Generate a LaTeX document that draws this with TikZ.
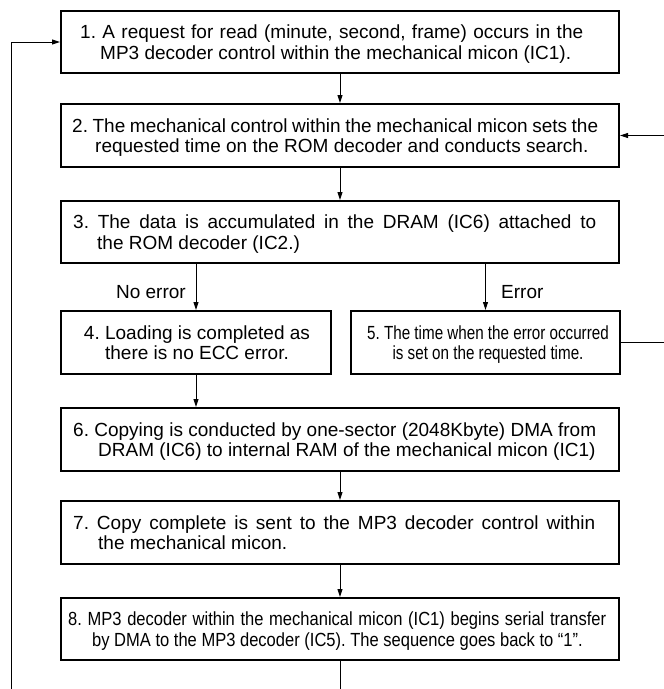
\documentclass[tikz,border=0pt]{standalone}
\usepackage{fontspec}
\setmainfont{Liberation Sans}
\newfontfamily\narrowA[FakeStretch=0.80]{Liberation Sans}
\newfontfamily\narrowB[FakeStretch=0.87]{Liberation Sans}
\usetikzlibrary{arrows.meta}
\newcommand\twoline[4]{\vtop{\baselineskip=20.5pt\hbox{\makebox[#1][s]{#3}}\hbox{\hspace*{#2}#4}}}
\newcommand\ctwoline[2]{\vtop{\baselineskip=20.5pt\hbox{\makebox[0pt]{#1}}\hbox{\makebox[0pt]{#2}}}}
\begin{document}
\begin{tikzpicture}[x=1pt,y=-1pt,
  every node/.style={font=\fontsize{19}{20.5}\selectfont\frenchspacing},
  stepbox/.style={draw,line width=2pt,inner sep=0pt,minimum width=558pt,minimum height=62pt},
  halfbox/.style={stepbox,minimum width=270pt,minimum height=63pt},
  txt/.style={inner sep=0pt,anchor=base west},
  ctxt/.style={inner sep=0pt,anchor=base},
  conn/.style={line width=1pt},
  arr/.style={conn,-{Triangle[length=8pt,width=5pt]}},
  lbl/.style={inner sep=0pt}
]
\useasboundingbox (0,0) rectangle (664,689);
% boxes
\node[stepbox] (b1) at (340,42) {};
\node[stepbox,minimum height=63pt] (b2) at (340,135.5) {};
\node[stepbox] (b3) at (340,232) {};
\node[halfbox] (b4) at (196,342.5) {};
\node[halfbox,minimum width=269pt] (b5) at (485.5,342.5) {};
\node[stepbox,minimum height=63pt] (b6) at (340,439.5) {};
\node[stepbox,minimum height=63pt] (b7) at (340,532.5) {};
\node[stepbox] (b8) at (340,629) {};
% texts
\node[txt] (t1) at (80,38.5) {\twoline{503pt}{20pt}{1. A request for read (minute, second, frame) occurs in the}{MP3 decoder control within the mechanical micon (IC1).}};
\node[txt] (t2) at (72,132) {\twoline{526pt}{23pt}{2. The mechanical control within the mechanical micon sets the}{requested time on the ROM decoder and conducts search.}};
\node[txt] (t3) at (73,228.5) {\twoline{523pt}{24pt}{3. The data is accumulated in the DRAM (IC6) attached to}{the ROM decoder (IC2.)}};
\node[ctxt] (t4) at (197,339) {\ctwoline{4. Loading is completed as}{there is no ECC error.}};
\node[ctxt,font=\narrowA\fontsize{19}{20.5}\selectfont\frenchspacing] (t5) at (488,339) {\ctwoline{5. The time when the error occurred}{is set on the requested time.}};
\node[txt] (t6) at (73,436) {\twoline{523pt}{25pt}{6. Copying is conducted by one-sector (2048Kbyte) DMA from}{DRAM (IC6) to internal RAM of the mechanical micon (IC1)}};
\node[txt] (t7) at (73,529) {\twoline{522pt}{25pt}{7. Copy complete is sent to the MP3 decoder control within}{the mechanical micon.}};
\node[txt,font=\narrowB\fontsize{19}{20.5}\selectfont\frenchspacing] (t8) at (68,625.5) {\twoline{538pt}{24pt}{8. MP3 decoder within the mechanical micon (IC1) begins serial transfer}{by DMA to the MP3 decoder (IC5). The sequence goes back to “1”.}};

\coordinate (bl) at (11,689);
\coordinate (bm) at (340,689);
\coordinate (rr) at (664,0);
\coordinate (n4) at (b3.south -| b4.north);
\coordinate (n5) at (b3.south -| b5.north);

\draw[arr] (b1) -- (b2);
\draw[arr] (b2) -- (b3);
\draw[arr] (n4) -- (b4.north);
\draw[arr] (n5) -- (b5.north);
\node[lbl,anchor=base east] (noerr) at (186,298) {No error};
\node[lbl,anchor=base west] (err) at (501,298) {Error};
\draw[arr] (b4.south) -- (b4.south |- b6.north);
\draw[arr] (b6) -- (b7);
\draw[arr] (b7) -- (b8);
\draw[conn] (b8.south) -- (bm);
\draw[arr] (bl) |- (b1.west);
\draw[arr] (b5.east) -- (b5.east -| rr) |- (b2.east);
\end{tikzpicture}
\end{document}
